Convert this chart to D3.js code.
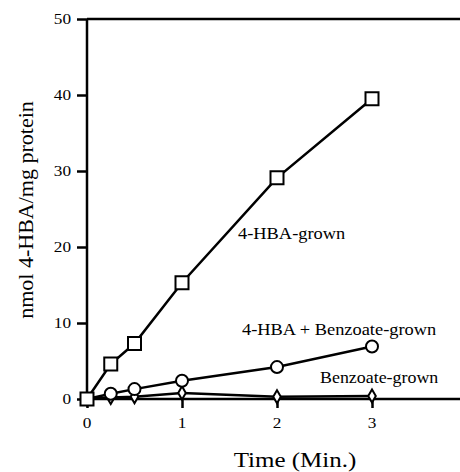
<!DOCTYPE html>
<html>
<head>
<meta charset="utf-8">
<script src="https://cdn.jsdelivr.net/npm/d3@7"></script>
<style>
  body { margin: 0; background: #fff; }
  text { font-family: "Liberation Serif", "Times New Roman", serif; fill: #000; }
</style>
</head>
<body>
<svg width="460" height="472"></svg>
<script>
const times = [0, 0.25, 0.5, 1, 2, 3];
const hbaGrown = [0, 4.6, 7.3, 15.3, 29.1, 39.5];
const mixGrown = [0, 0.7, 1.3, 2.4, 4.2, 6.9];
const benzoateGrown = [0, 0.2, 0.3, 0.8, 0.3, 0.4];
const xTicks = [0, 1, 2, 3];
const yTicks = [0, 10, 20, 30, 40, 50];

const svg = d3.select("svg");

const x = d3.scaleLinear().domain([0, 4]).range([87, 467]);
const y = d3.scaleLinear().domain([0, 50]).range([399, 19]);

// text is a bit wider than it is tall in the original figure
function label(px, py, str, size, sx, anchor) {
    return svg.append("text")
        .attr("transform", `translate(${px},${py}) scale(${sx},1)`)
        .attr("text-anchor", anchor || "start")
        .attr("font-size", size)
        .text(str);
}

// axes
const xAxis = svg.append("g")
    .attr("transform", `translate(0,${y(0)})`)
    .call(d3.axisBottom(x).tickValues(xTicks).tickSize(9).tickFormat(d3.format("d")));
xAxis.select(".domain").remove();
xAxis.append("line").attr("x1", 80).attr("x2", 460).attr("stroke", "#000").attr("stroke-width", 2.5);
xAxis.selectAll(".tick line").attr("stroke-width", 2.5);
xAxis.selectAll(".tick text").remove();
xTicks.forEach(t => label(x(t), 428, t, 15, 1.15, "middle"));

const yAxis = svg.append("g")
    .attr("transform", `translate(${x(0)},0)`)
    .call(d3.axisLeft(y).tickValues(yTicks).tickSize(10));
yAxis.select(".domain").remove();
yAxis.append("line").attr("y1", y(50)).attr("y2", y(0) + 4).attr("stroke", "#000").attr("stroke-width", 2.5);
yAxis.selectAll(".tick line").attr("stroke-width", 2.5);
yAxis.selectAll(".tick text").remove();
yTicks.forEach(t => label(71, y(t) + 5, t, 15, 1.15, "end"));

// top border
svg.append("line")
    .attr("x1", x(0)).attr("x2", 460)
    .attr("y1", y(50)).attr("y2", y(50))
    .attr("stroke", "#000").attr("stroke-width", 2.5);

const line = d3.line().x((d, i) => x(times[i])).y(d => y(d));

function drawSeries(values, shape) {
    svg.append("path")
        .datum(values)
        .attr("d", line)
        .attr("fill", "none")
        .attr("stroke", "#000")
        .attr("stroke-width", 2.5);
    svg.append("g").selectAll("path")
        .data(values)
        .join("path")
        .attr("transform", (d, i) => `translate(${x(times[i])},${y(d)})`)
        .attr("d", shape)
        .attr("fill", "#fff")
        .attr("stroke", "#000")
        .attr("stroke-width", 2);
}

drawSeries(benzoateGrown, d3.symbol(d3.symbolDiamond, 50)());
drawSeries(mixGrown, "M6,0A6,6,0,1,1,-6,0A6,6,0,1,1,6,0Z");
drawSeries(hbaGrown, "M-6.5,-6.5H6.5V6.5H-6.5Z");

// series labels
label(238, 239, "4-HBA-grown", 16, 1.15);
label(242, 335, "4-HBA + Benzoate-grown", 16, 1.15);
label(320, 383, "Benzoate-grown", 16, 1.12);

label(295, 467, "Time (Min.)", 20, 1.25, "middle");

svg.append("text")
    .attr("transform", "translate(33,210) rotate(-90)")
    .attr("text-anchor", "middle")
    .attr("font-size", 22)
    .text("nmol 4-HBA/mg protein");
</script>
</body>
</html>
